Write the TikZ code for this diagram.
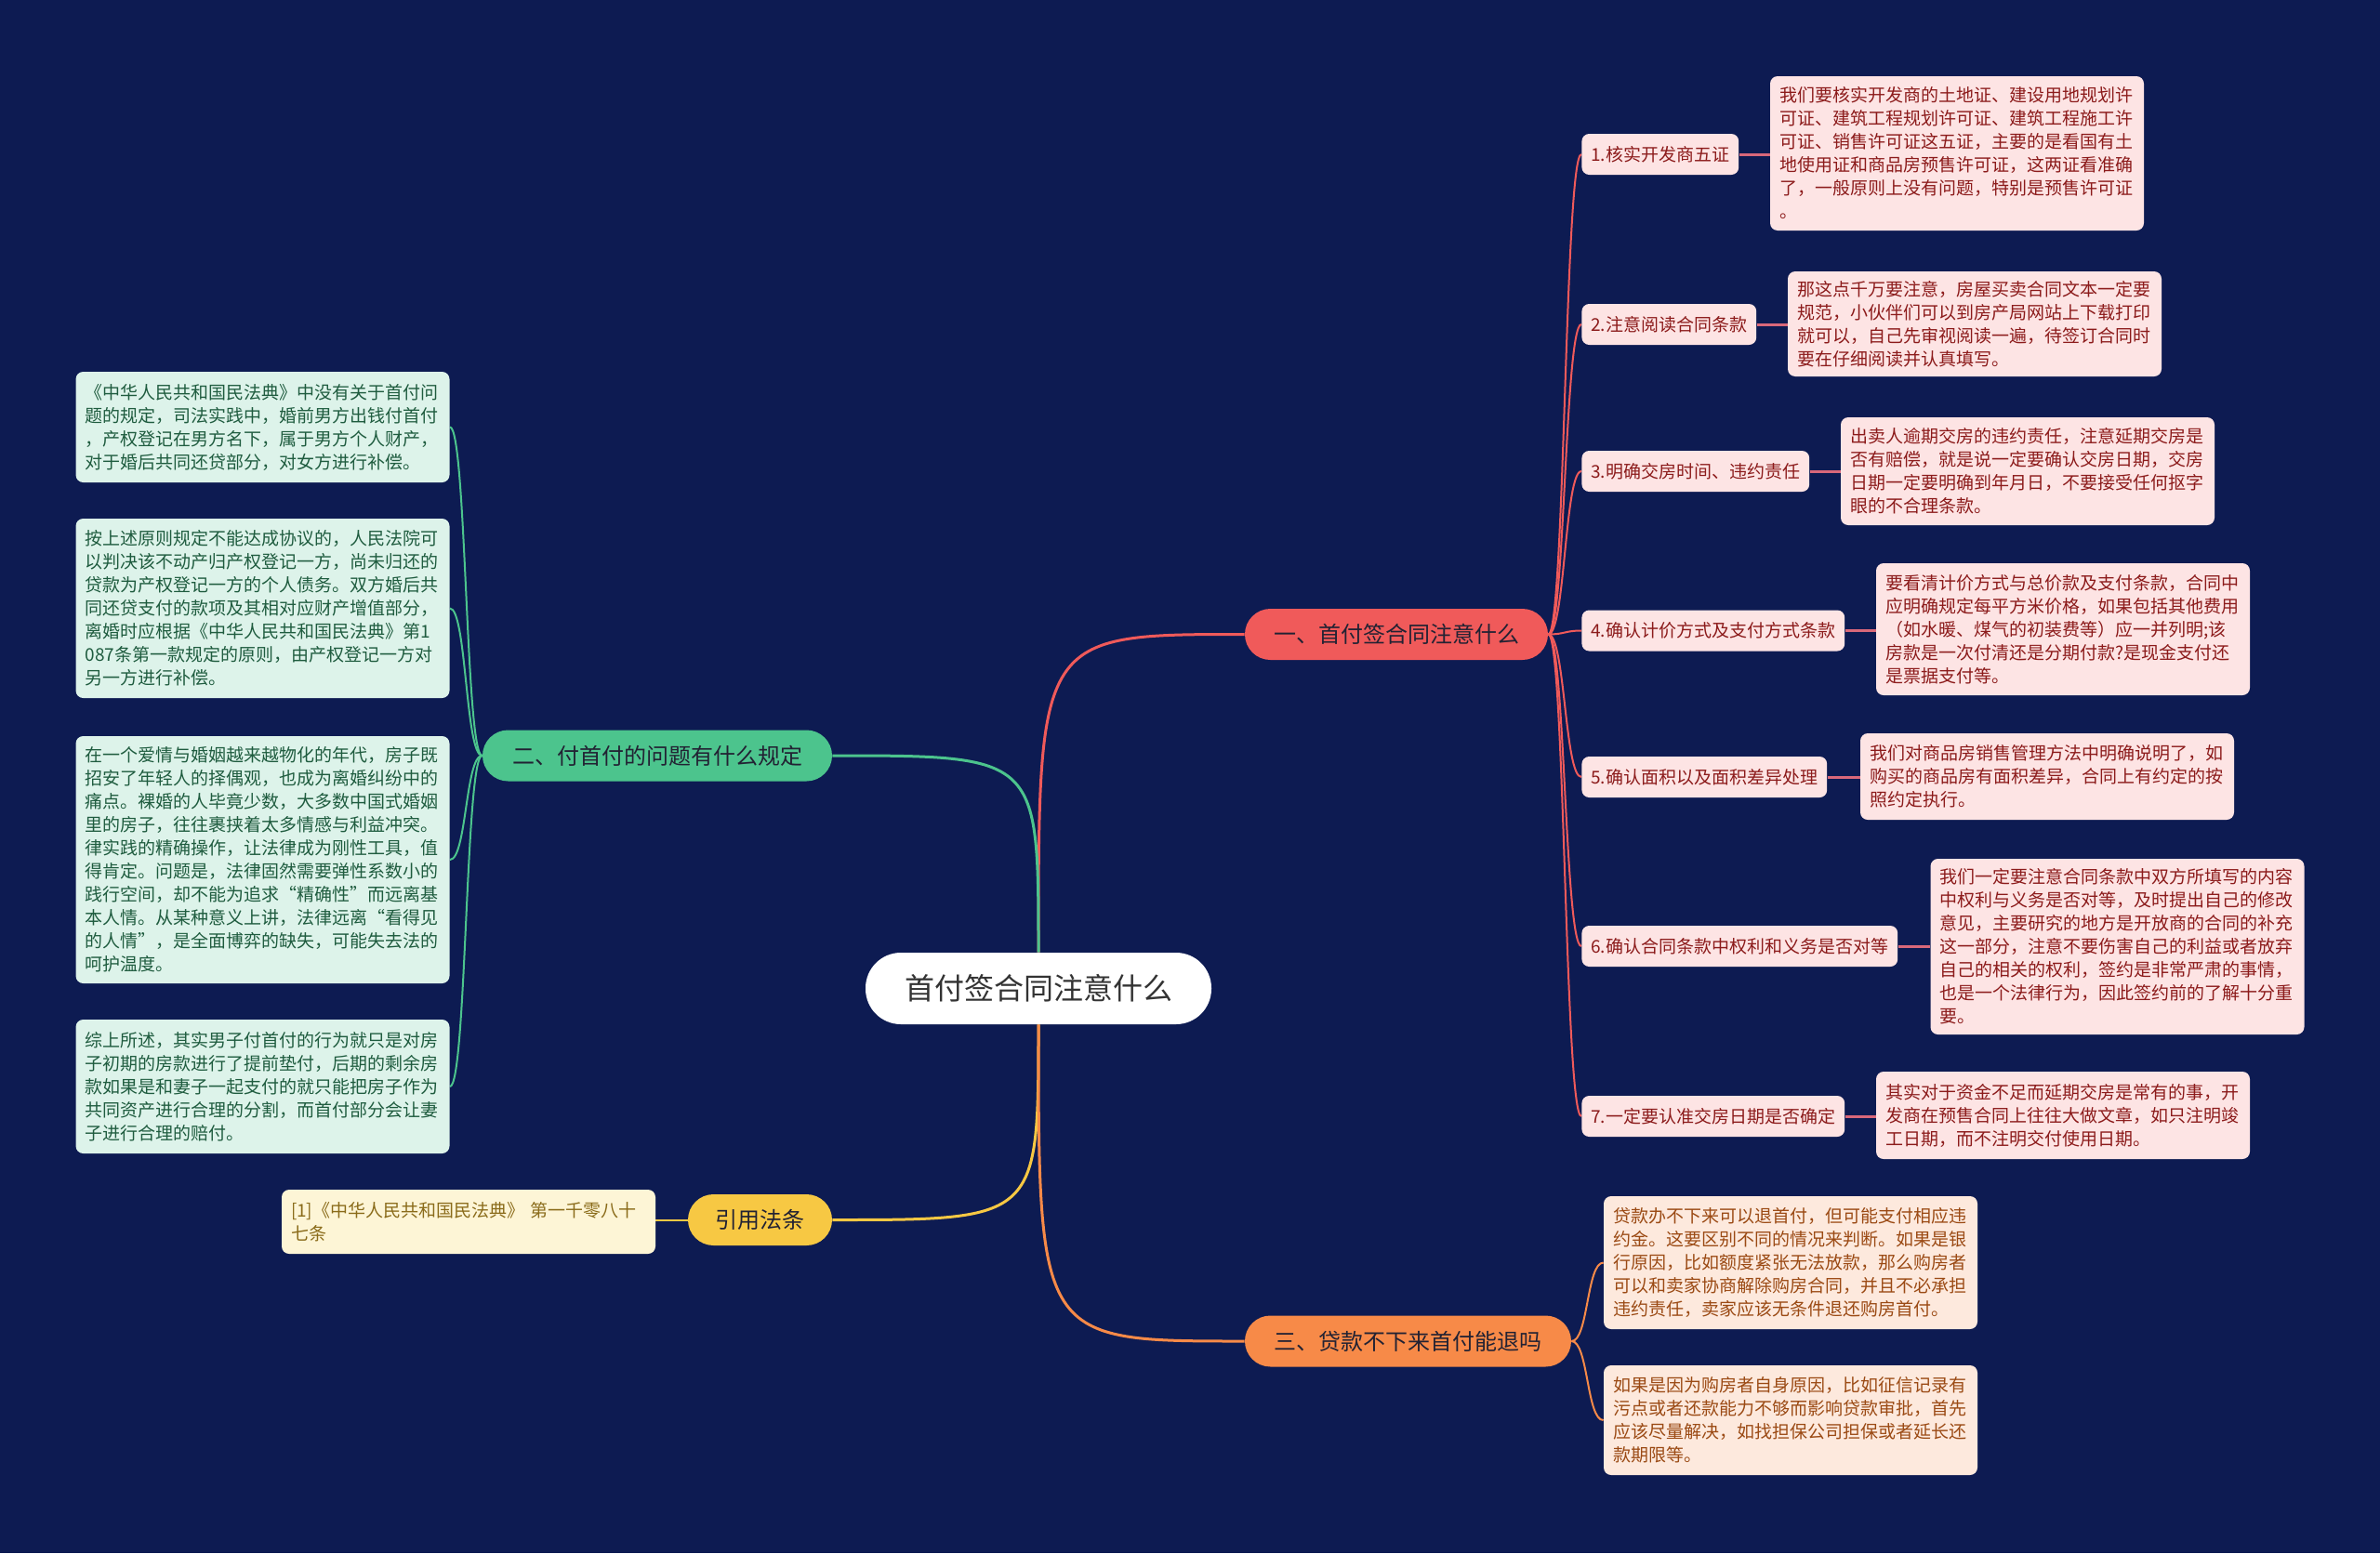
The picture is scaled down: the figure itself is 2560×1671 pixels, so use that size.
\documentclass[tikz,border=0pt]{standalone}
\usepackage{fontspec}
\newfontfamily\cjk{Noto Sans CJK SC}
\usetikzlibrary{calc}
\definecolor{bgcol}{HTML}{0D1B52}
\definecolor{redc}{HTML}{F05A5A}
\definecolor{redleaf}{HTML}{FDE4E4}
\definecolor{redtext}{HTML}{8C1B1B}
\definecolor{pinkline}{HTML}{D9687A}
\definecolor{greenc}{HTML}{4CC48D}
\definecolor{greenbox}{HTML}{DDF3EA}
\definecolor{greentext}{HTML}{1F5C3F}
\definecolor{yellowc}{HTML}{F7C843}
\definecolor{yellowbox}{HTML}{FDF5D6}
\definecolor{yellowtext}{HTML}{8A6B1A}
\definecolor{orangec}{HTML}{F78A48}
\definecolor{orangebox}{HTML}{FDE9DD}
\definecolor{orangetext}{HTML}{9B4A14}
\definecolor{branchtext}{HTML}{222233}
\newcommand\mydfont{\cjk\fontsize{9.5pt}{12.5pt}\selectfont}
\newcommand\mybfont{\cjk\fontsize{12pt}{14pt}\selectfont}
\newcommand\mycfont{\cjk\fontsize{16pt}{19pt}\selectfont}
\pgfdeclarelayer{background}
\pgfsetlayers{background,main}
\tikzset{
  detail/.style={rounded corners=4pt, inner xsep=5pt, inner ysep=4pt, align=left, text width=191pt, font=\mydfont},
  leaf/.style={rounded corners=4pt, inner xsep=5pt, inner ysep=0pt, minimum height=22pt, anchor=west, font=\mydfont, fill=redleaf, text=redtext},
  branch/.style={rounded corners=13.75pt, minimum height=27.5pt, inner sep=0pt, font=\mybfont, text=branchtext},
  mainconn/.style={line width=1.5pt},
  subconn/.style={line width=1pt},
  pinkconn/.style={line width=1.5pt, pinkline},
}
\begin{document}
\begin{tikzpicture}[x=0.5pt,y=-0.5pt]
\useasboundingbox (0,0) rectangle (2560,1671);

% center
\node[fill=white, rounded corners=19pt, minimum width=186pt, minimum height=38.5pt, inner sep=0pt, font=\mycfont, text=black!80] (c) at (1117,1063.5) {首付签合同注意什么};

% main branches
\node[branch, fill=redc, minimum width=163pt] (b1) at (1502,682.5) {一、首付签合同注意什么};
\node[branch, fill=greenc, minimum width=188pt] (b2) at (707,813) {二、付首付的问题有什么规定};
\node[branch, fill=yellowc, minimum width=77.5pt] (b3) at (817.5,1312.5) {引用法条};
\node[branch, fill=orangec, minimum width=175.5pt] (b4) at (1514.5,1443) {三、贷款不下来首付能退吗};

% red leaves
\node[leaf] (l1) at (1701,166) {1.核实开发商五证};
\node[leaf] (l2) at (1701,349) {2.注意阅读合同条款};
\node[leaf] (l3) at (1701,507) {3.明确交房时间、违约责任};
\node[leaf] (l4) at (1701,678.5) {4.确认计价方式及支付方式条款};
\node[leaf] (l5) at (1701,836) {5.确认面积以及面积差异处理};
\node[leaf] (l6) at (1701,1018) {6.确认合同条款中权利和义务是否对等};
\node[leaf] (l7) at (1701,1201) {7.一定要认准交房日期是否确定};

% red details
\node[detail, fill=redleaf, text=redtext, minimum height=83pt] (d1) at (2105,165) {我们要核实开发商的土地证、建设用地规划许\\可证、建筑工程规划许可证、建筑工程施工许\\可证、销售许可证这五证，主要的是看国有土\\地使用证和商品房预售许可证，这两证看准确\\了，一般原则上没有问题，特别是预售许可证\\。};
\node[detail, fill=redleaf, text=redtext, minimum height=56.5pt] (d2) at (2124,348.5) {那这点千万要注意，房屋买卖合同文本一定要\\规范，小伙伴们可以到房产局网站上下载打印\\就可以，自己先审视阅读一遍，待签订合同时\\要在仔细阅读并认真填写。};
\node[detail, fill=redleaf, text=redtext, minimum height=58pt] (d3) at (2181,507) {出卖人逾期交房的违约责任，注意延期交房是\\否有赔偿，就是说一定要确认交房日期，交房\\日期一定要明确到年月日，不要接受任何抠字\\眼的不合理条款。};
\node[detail, fill=redleaf, text=redtext, minimum height=71pt] (d4) at (2219,677) {要看清计价方式与总价款及支付条款，合同中\\应明确规定每平方米价格，如果包括其他费用\\（如水暖、煤气的初装费等）应一并列明;该\\房款是一次付清还是分期付款?是现金支付还\\是票据支付等。};
\node[detail, fill=redleaf, text=redtext, minimum height=46.5pt] (d5) at (2202,835.5) {我们对商品房销售管理方法中明确说明了，如\\购买的商品房有面积差异，合同上有约定的按\\照约定执行。};
\node[detail, fill=redleaf, text=redtext, minimum height=94.5pt] (d6) at (2277.5,1018.5) {我们一定要注意合同条款中双方所填写的内容\\中权利与义务是否对等，及时提出自己的修改\\意见，主要研究的地方是开放商的合同的补充\\这一部分，注意不要伤害自己的利益或者放弃\\自己的相关的权利，签约是非常严肃的事情，\\也是一个法律行为，因此签约前的了解十分重\\要。};
\node[detail, fill=redleaf, text=redtext, minimum height=47pt] (d7) at (2219,1200) {其实对于资金不足而延期交房是常有的事，开\\发商在预售合同上往往大做文章，如只注明竣\\工日期，而不注明交付使用日期。};

% green details
\node[detail, fill=greenbox, text=greentext, minimum height=59.5pt] (g1) at (282.5,459.5) {《中华人民共和国民法典》中没有关于首付问\\题的规定，司法实践中，婚前男方出钱付首付\\，产权登记在男方名下，属于男方个人财产，\\对于婚后共同还贷部分，对女方进行补偿。};
\node[detail, fill=greenbox, text=greentext, minimum height=96.5pt] (g2) at (282.5,654.5) {按上述原则规定不能达成协议的，人民法院可\\以判决该不动产归产权登记一方，尚未归还的\\贷款为产权登记一方的个人债务。双方婚后共\\同还贷支付的款项及其相对应财产增值部分，\\离婚时应根据《中华人民共和国民法典》第1\\087条第一款规定的原则，由产权登记一方对\\另一方进行补偿。};
\node[detail, fill=greenbox, text=greentext, minimum height=133pt] (g3) at (282.5,925) {在一个爱情与婚姻越来越物化的年代，房子既\\招安了年轻人的择偶观，也成为离婚纠纷中的\\痛点。裸婚的人毕竟少数，大多数中国式婚姻\\里的房子，往往裹挟着太多情感与利益冲突。\\律实践的精确操作，让法律成为刚性工具，值\\得肯定。问题是，法律固然需要弹性系数小的\\践行空间，却不能为追求“精确性”而远离基\\本人情。从某种意义上讲，法律远离“看得见\\的人情”，是全面博弈的缺失，可能失去法的\\呵护温度。};
\node[detail, fill=greenbox, text=greentext, minimum height=72pt] (g4) at (282.5,1169) {综上所述，其实男子付首付的行为就只是对房\\子初期的房款进行了提前垫付，后期的剩余房\\款如果是和妻子一起支付的就只能把房子作为\\共同资产进行合理的分割，而首付部分会让妻\\子进行合理的赔付。};

% citation
\node[detail, fill=yellowbox, text=yellowtext, minimum height=34.5pt] (cit) at (504,1314.5) {[1]《中华人民共和国民法典》 第一千零八十\\七条};

% orange details
\node[detail, fill=orangebox, text=orangetext, minimum height=71.5pt] (o1) at (1926,1358.5) {贷款办不下来可以退首付，但可能支付相应违\\约金。这要区别不同的情况来判断。如果是银\\行原因，比如额度紧张无法放款，那么购房者\\可以和卖家协商解除购房合同，并且不必承担\\违约责任，卖家应该无条件退还购房首付。};
\node[detail, fill=orangebox, text=orangetext, minimum height=59pt] (o2) at (1926,1528) {如果是因为购房者自身原因，比如征信记录有\\污点或者还款能力不够而影响贷款审批，首先\\应该尽量解决，如找担保公司担保或者延长还\\款期限等。};

\begin{pgfonlayer}{background}
\fill[bgcol] (0,0) rectangle (2560,1671);
% main connectors
\draw[mainconn, redc] (c.north) .. controls (c.north |- b1.west) and (c.north |- b1.west) .. (b1.west);
\draw[mainconn, greenc] (c.north) .. controls (c.north |- b2.east) and (c.north |- b2.east) .. (b2.east);
\draw[mainconn, yellowc] (c.south) .. controls (c.south |- b3.east) and (c.south |- b3.east) .. (b3.east);
\draw[mainconn, orangec] (c.south) .. controls (c.south |- b4.west) and (c.south |- b4.west) .. (b4.west);
% red sub connectors
\foreach \i in {1,...,7}{
  \draw[subconn, redc] (b1.east) .. controls ($(b1.east)+(18,0)$) and ($(l\i.west)+(-18,0)$) .. (l\i.west);
  \draw[pinkconn] (l\i.east) -- (l\i.east -| d\i.west);
}
% green sub connectors
\foreach \i in {1,...,4}{
  \draw[subconn, greenc] (b2.west) .. controls ($(b2.west)+(-18,0)$) and ($(g\i.east)+(18,0)$) .. (g\i.east);
}
% yellow
\draw[subconn, yellowc] (b3.west) -- (b3.west -| cit.east);
% orange
\foreach \i in {1,2}{
  \draw[subconn, orangec] (b4.east) .. controls ($(b4.east)+(18,0)$) and ($(o\i.west)+(-18,0)$) .. (o\i.west);
}
\end{pgfonlayer}
\end{tikzpicture}
\end{document}
